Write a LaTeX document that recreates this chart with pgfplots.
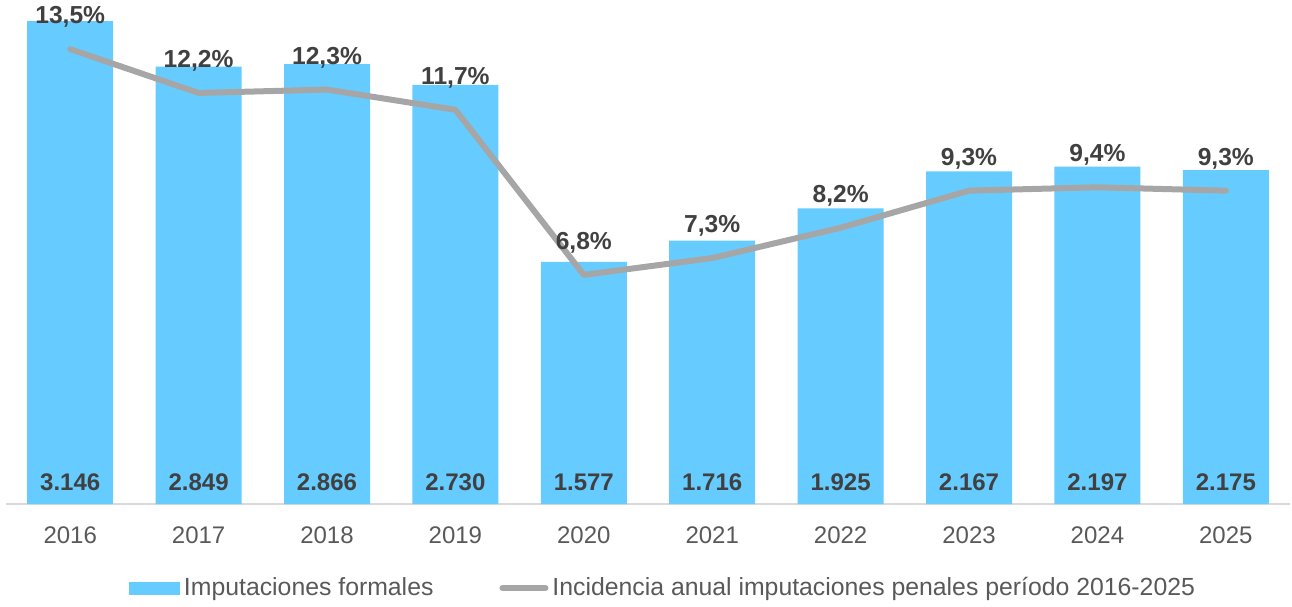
\documentclass[border=0pt]{standalone}
\usepackage{pgfplots}
\pgfplotsset{compat=1.18}
\usepackage{fontspec}
\setmainfont{Liberation Sans}
\definecolor{barblue}{HTML}{66CCFF}
\definecolor{linegray}{HTML}{A6A6A6}
\definecolor{labgray}{HTML}{404040}
\definecolor{tickgray}{HTML}{595959}
\definecolor{axisgray}{HTML}{D9D9D9}
\begin{document}
\begin{tikzpicture}
\begin{axis}[
  name=main,
  scale only axis,
  width=642pt, height=251pt,
  xmin=-0.5, xmax=9.5,
  ymin=0, ymax=3270,
  axis x line*=bottom,
  axis y line=none,
  x axis line style={draw=axisgray, line width=1pt, -},
  xtick={0,...,9},
  xticklabels={2016,2017,2018,2019,2020,2021,2022,2023,2024,2025},
  major tick length=0pt,
  xticklabel style={font=\fontsize{12pt}{14pt}\selectfont, text=tickgray, yshift=-8pt},
  /pgf/number format/assume math mode=true,
  clip=false,
  legend columns=2,
  legend style={draw=none, fill=none, at={(0.5,0)}, anchor=center, yshift=-42pt, xshift=8pt,
    font=\fontsize{12.4pt}{14pt}\selectfont, text=tickgray,
    /tikz/every even column/.append style={column sep=31pt}},
]
\addplot[ybar, bar width=43pt, fill=barblue, draw=none,
  legend image code/.code={\fill[barblue] (0pt,-3.25pt) rectangle (25.5pt,3.25pt);}]
  coordinates {(0,3146) (1,2849) (2,2866) (3,2730) (4,1577) (5,1716) (6,1925) (7,2167) (8,2197) (9,2175)};
\addlegendentry{Imputaciones formales}
\addplot[draw=none, forget plot, mark=none, point meta=explicit symbolic,
  nodes near coords,
  every node near coord/.append style={anchor=center, yshift=11pt, font=\fontsize{12pt}{14pt}\selectfont\bfseries, text=labgray}]
  coordinates {(0,0) [3.146] (1,0) [2.849] (2,0) [2.866] (3,0) [2.730] (4,0) [1.577] (5,0) [1.716] (6,0) [1.925] (7,0) [2.167] (8,0) [2.197] (9,0) [2.175]};
\addlegendimage{legend image code/.code={\draw[linegray, line width=3pt, line cap=round] (0pt,0pt) -- (21.5pt,0pt);}}
\addlegendentry{Incidencia anual imputaciones penales período 2016-2025}
\end{axis}
\begin{axis}[
  scale only axis,
  width=642pt, height=251pt,
  xmin=-0.5, xmax=9.5,
  ymin=0, ymax=14.9,
  hide axis,
  clip=false,
  /pgf/number format/assume math mode=true,
]
\addplot[linegray, line width=3pt, line join=round, line cap=round, mark=none,
  point meta=y,
  nodes near coords={\pgfmathprintnumber[fixed,fixed zerofill,precision=1,use comma]{\pgfplotspointmeta}\%},
  every node near coord/.append style={anchor=center, yshift=16pt, font=\fontsize{12.3pt}{14pt}\selectfont\bfseries, text=labgray}]
  coordinates {(0,13.5) (1,12.2) (2,12.3) (3,11.7) (4,6.8) (5,7.3) (6,8.2) (7,9.3) (8,9.4) (9,9.3)};
\end{axis}
\path ([xshift=-3pt]main.west) ([xshift=1pt]main.east);
\end{tikzpicture}
\end{document}
